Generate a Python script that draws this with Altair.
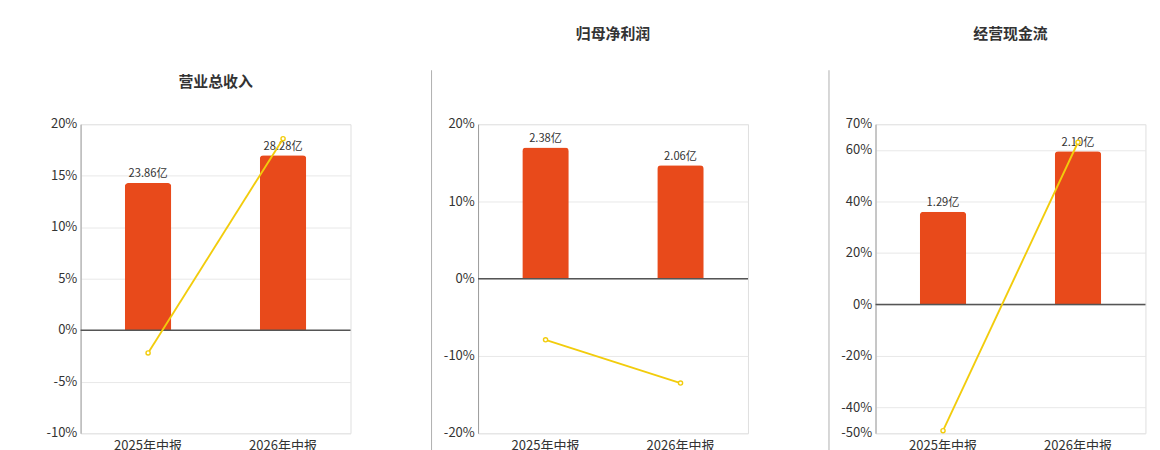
import altair as alt
import pandas as pd

periods = ["2025年中报", "2026年中报"]
titles = ["营业总收入", "归母净利润", "经营现金流"]
bar_pos = [[14.3, 17.0], [17.0, 14.7], [36.0, 59.5]]
bar_labels = [["23.86亿", "28.28亿"], ["2.38亿", "2.06亿"], ["1.29亿", "2.10亿"]]
yoy = [[-2.2, 18.6], [-7.9, -13.5], [-49.0, 63.0]]
domains = [[-10, 20], [-20, 20], [-50, 70]]
ticks = [[-10, -5, 0, 5, 10, 15, 20], [-20, -10, 0, 10, 20], [-50, -40, -20, 0, 20, 40, 60, 70]]

BAR = "#E84A1B"
LINE = "#F2CC0C"
W, H = 290, 332


def panel(i):
    df = pd.DataFrame({"p": periods, "v": bar_pos[i], "lab": bar_labels[i], "y": yoy[i]})
    x = alt.X("p:N", sort=periods, title=None,
              axis=alt.Axis(labelAngle=0, labelFontSize=14, labelColor="#333", ticks=False,
                            domain=False, labelPadding=6))
    ysc = alt.Scale(domain=domains[i], nice=False, zero=False)
    yax = alt.Axis(values=ticks[i], format="d", labelExpr="datum.value + '%'", labelFontSize=14,
                   labelColor="#333", title=None, gridColor="#e6e6e6", domainColor="#999",
                   ticks=False, labelPadding=4)
    base = alt.Chart(df)
    bars = base.mark_bar(color=BAR, size=50, cornerRadiusTopLeft=4, cornerRadiusTopRight=4).encode(
        x=x, y=alt.Y("v:Q", scale=ysc, axis=yax))
    labels = base.mark_text(dy=-10, fontSize=12, color="#333").encode(
        x=x, y=alt.Y("v:Q", scale=ysc), text="lab:N")
    line = base.mark_line(color=LINE, strokeWidth=2).encode(x=x, y=alt.Y("y:Q", scale=ysc))
    pts = base.mark_point(color=LINE, fill="white", filled=True, stroke=LINE, size=20, strokeWidth=1.5,
                          opacity=1).encode(x=x, y=alt.Y("y:Q", scale=ysc))
    zero = alt.Chart(pd.DataFrame({"z": [0]})).mark_rule(color="#555", strokeWidth=1.5).encode(
        y=alt.Y("z:Q", scale=ysc))
    leg = alt.Chart(pd.DataFrame({"a": [0]}))
    ly = H + 31
    lx = 42
    legend = [
        leg.mark_rect(color=BAR, cornerRadius=3).encode(x=alt.value(lx), x2=alt.value(lx + 25),
                                                        y=alt.value(ly - 6), y2=alt.value(ly + 6)),
        leg.mark_text(align="left", fontSize=12, color="#333").encode(
            x=alt.value(lx + 30), y=alt.value(ly), text=alt.value(titles[i])),
        leg.mark_rule(color=LINE, strokeWidth=2).encode(x=alt.value(lx + 100), x2=alt.value(lx + 128),
                                                        y=alt.value(ly)),
        leg.mark_point(color=LINE, fill="white", filled=True, stroke=LINE, size=70, strokeWidth=2,
                       opacity=1).encode(x=alt.value(lx + 114), y=alt.value(ly)),
        leg.mark_text(align="left", fontSize=12, color="#333").encode(
            x=alt.value(lx + 134), y=alt.value(ly), text=alt.value("同比")),
    ]
    layers = [bars, zero, labels, line, pts] + legend
    if i > 0:
        layers.append(leg.mark_rule(color="#aaa").encode(x=alt.value(-50), y=alt.value(-58),
                                                         y2=alt.value(H + 38)))
    return alt.layer(*layers).properties(
        width=W, height=H,
        title=alt.TitleParams(titles[i], fontSize=16, fontWeight="bold", color="#333", offset=30))


chart = alt.hconcat(*[panel(i) for i in range(3)], spacing=84).resolve_scale(y="independent") \
    .configure_view(stroke=None).configure(font="Noto Sans CJK SC") \
    .properties(padding={"left": 40, "top": 2, "right": 5, "bottom": 2})

chart.save("out.html", embed_options={"renderer": "svg", "actions": False})
